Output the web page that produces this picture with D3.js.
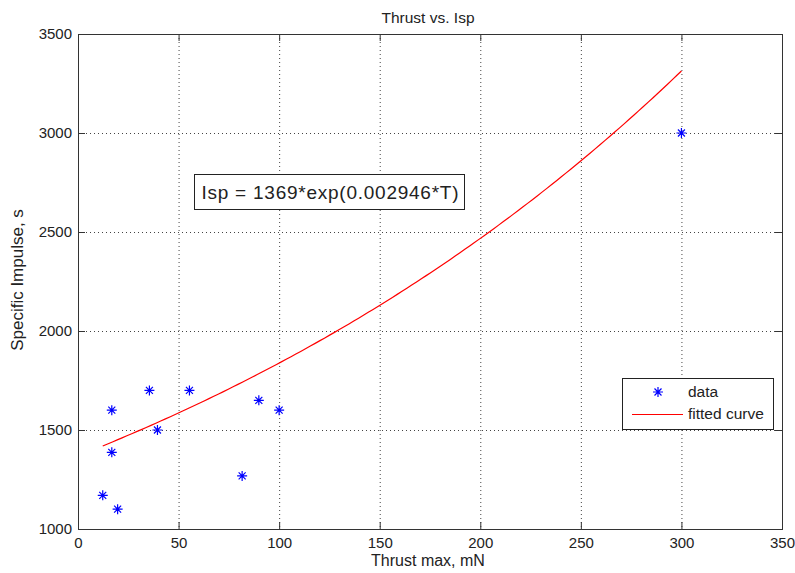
<!DOCTYPE html>
<html>
<head>
<meta charset="utf-8">
<script src="https://cdn.jsdelivr.net/npm/d3@7"></script>
<style>
  body { margin: 0; background: #fff; }
  svg text { font-family: "Liberation Sans", Arial, sans-serif; fill: #222; }
</style>
</head>
<body>
<div id="chart-area"></div>
<script>
// thrust (mN) and specific impulse (s) of the measured thrusters
var thrust = [12.3, 16.8, 16.8, 19.7, 35.5, 39.5, 55.4, 81.6, 89.9, 100, 300];
var isp    = [1170, 1387, 1600, 1100, 1700, 1500, 1700, 1268, 1650, 1600, 3000];

// exponential fit: Isp = a*exp(b*T)
var fitA = 1369, fitB = 0.002946;
var fitT = d3.range(12.3, 300.01, 2.4).concat([300]);

var xTicks = [0, 50, 100, 150, 200, 250, 300, 350];
var yTicks = [1000, 1500, 2000, 2500, 3000, 3500];
var legendLabels = ["data", "fitted curve"];

var margin = {left: 78, right: 13, top: 34, bottom: 44};
var width = 795 - margin.left - margin.right,
    height = 573 - margin.top - margin.bottom;

var svg = d3.select("#chart-area")
    .append("svg")
      .attr("width", 795)
      .attr("height", 573);

var group = svg.append("g")
    .attr("transform", "translate(" + margin.left + "," + margin.top + ")");

var x = d3.scaleLinear().domain([0, 350]).range([0, width]);
var y = d3.scaleLinear().domain([1000, 3500]).range([height, 0]);

// dotted grid
group.selectAll(".vgrid")
    .data(xTicks.slice(1, -1))
  .enter().append("line")
    .attr("x1", function(d){ return x(d) + 0.5 })
    .attr("x2", function(d){ return x(d) + 0.5 })
    .attr("y1", 0).attr("y2", height)
    .attr("stroke", "#444")
    .attr("stroke-dasharray", "1,3");

group.selectAll(".hgrid")
    .data(yTicks.slice(1, -1))
  .enter().append("line")
    .attr("y1", function(d){ return y(d) + 0.5 })
    .attr("y2", function(d){ return y(d) + 0.5 })
    .attr("x1", 0).attr("x2", width)
    .attr("stroke", "#444")
    .attr("stroke-dasharray", "1,3");

// axes with inward ticks, mirrored on top and right
var tickLen = 7;
var xAxisCall = d3.axisBottom(x).tickValues(xTicks).tickFormat(d3.format("d"))
    .tickSizeInner(-tickLen).tickSizeOuter(0).tickPadding(8);
var yAxisCall = d3.axisLeft(y).tickValues(yTicks).tickFormat(d3.format("d"))
    .tickSizeInner(-tickLen).tickSizeOuter(0).tickPadding(6);

group.append("g")
    .attr("class", "x axis")
    .attr("transform", "translate(0," + height + ")")
    .call(xAxisCall);
group.append("g")
    .attr("class", "y axis")
    .call(yAxisCall);

group.append("g")
    .call(d3.axisTop(x).tickValues(xTicks).tickSizeInner(-tickLen).tickSizeOuter(0).tickFormat(""));
group.append("g")
    .attr("transform", "translate(" + width + ",0)")
    .call(d3.axisRight(y).tickValues(yTicks).tickSizeInner(-tickLen).tickSizeOuter(0).tickFormat(""));

group.selectAll(".domain").remove();
group.selectAll(".tick line").attr("stroke", "#333");
group.selectAll(".tick text")
    .attr("font-size", "15px")
    .attr("font-family", "Liberation Sans, Arial, sans-serif")
    .attr("fill", "#222");

group.append("rect")
    .attr("x", 0.5).attr("y", 0.5)
    .attr("width", width).attr("height", height)
    .attr("fill", "none")
    .attr("stroke", "#333");

// fitted curve
var line = d3.line()
    .x(function(d){ return x(d) })
    .y(function(d){ return y(fitA * Math.exp(fitB * d)) });

group.append("path")
    .datum(fitT)
    .attr("d", line)
    .attr("fill", "none")
    .attr("stroke", "#ff0000")
    .attr("stroke-width", 1.2);

// asterisk marker
function star(r) {
  var d = r * 0.7;
  return "M" + (-r) + ",0L" + r + ",0M0," + (-r) + "L0," + r +
         "M" + (-d) + "," + (-d) + "L" + d + "," + d +
         "M" + (-d) + "," + d + "L" + d + "," + (-d);
}

group.selectAll(".pt")
    .data(thrust)
  .enter().append("path")
    .attr("transform", function(d, i){ return "translate(" + x(d) + "," + y(isp[i]) + ")" })
    .attr("d", star(5))
    .attr("stroke", "#0000ff")
    .attr("stroke-width", 1.2)
    .attr("fill", "none");

// fit equation box
var eqText = "Isp = " + fitA + "*exp(" + fitB + "*T)";
var eqBox = group.append("g").attr("transform", "translate(116,140)");
eqBox.append("rect")
    .attr("x", 0.5).attr("y", 0.5)
    .attr("width", 270).attr("height", 35)
    .attr("fill", "#fff")
    .attr("stroke", "#222");
eqBox.append("text")
    .attr("x", 136).attr("y", 24.5)
    .attr("text-anchor", "middle")
    .attr("font-size", "19px")
    .attr("fill", "#333")
    .attr("textLength", 257)
    .attr("lengthAdjust", "spacing")
    .text(eqText);

// legend
var legend = group.append("g").attr("transform", "translate(544,344)");
legend.append("rect")
    .attr("x", 0.5).attr("y", 0.5)
    .attr("width", 151).attr("height", 51)
    .attr("fill", "#fff")
    .attr("stroke", "#222");
legend.append("path")
    .attr("transform", "translate(36,14)")
    .attr("d", star(5))
    .attr("stroke", "#0000ff")
    .attr("stroke-width", 1.2);
legend.append("line")
    .attr("x1", 10).attr("x2", 61)
    .attr("y1", 36.5).attr("y2", 36.5)
    .attr("stroke", "#ff0000")
    .attr("stroke-width", 1.2);
legend.selectAll(".lab")
    .data(legendLabels)
  .enter().append("text")
    .attr("x", 66)
    .attr("y", function(d, i){ return 19 + i * 22 })
    .attr("font-size", "15.5px")
    .text(function(d){ return d });

// title and axis labels
svg.append("text")
    .attr("x", 428)
    .attr("y", 23)
    .attr("text-anchor", "middle")
    .attr("font-size", "15.5px")
    .text("Thrust vs. Isp");

svg.append("text")
    .attr("x", 428)
    .attr("y", 566)
    .attr("text-anchor", "middle")
    .attr("font-size", "16px")
    .text("Thrust max, mN");

svg.append("text")
    .attr("transform", "translate(23,280) rotate(-90)")
    .attr("text-anchor", "middle")
    .attr("font-size", "17px")
    .text("Specific Impulse, s");
</script>
</body>
</html>
